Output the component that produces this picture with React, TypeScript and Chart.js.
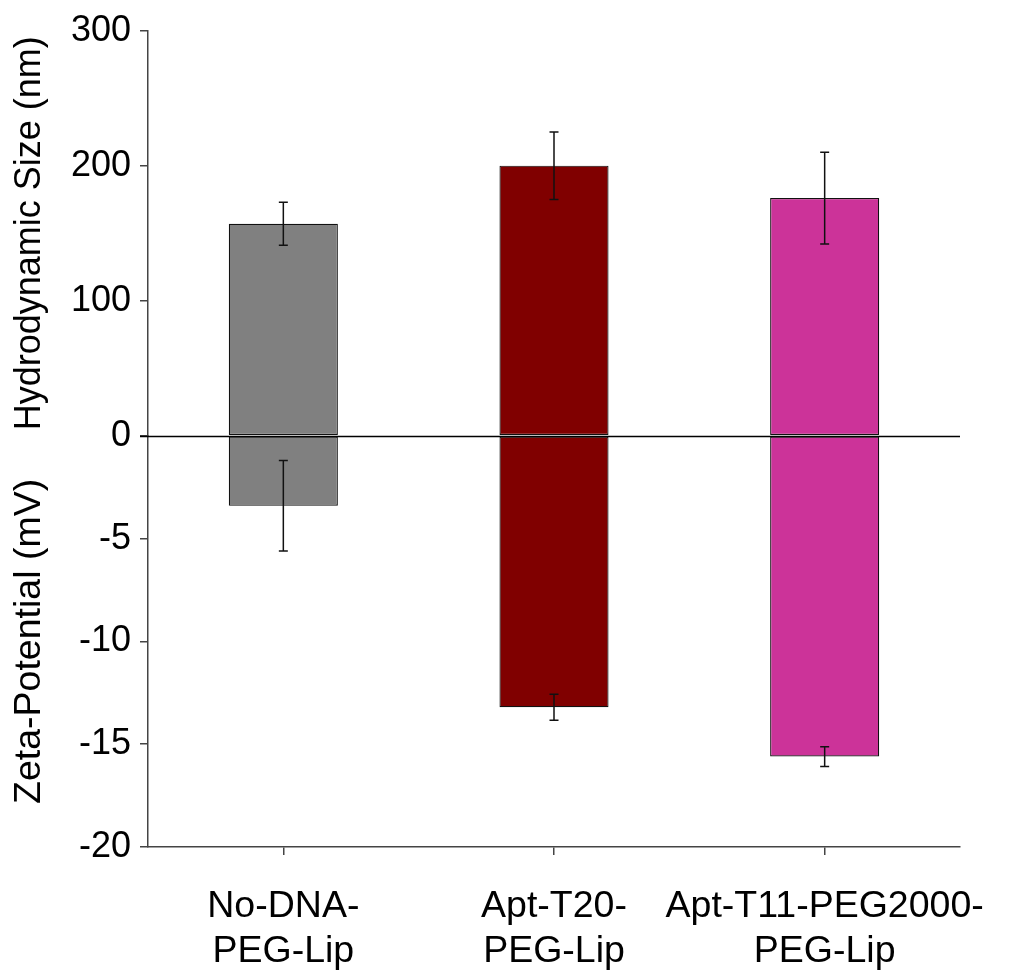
import React, { useEffect, useRef } from 'react';
import { Chart, registerables } from 'chart.js';

Chart.register(...registerables);

const categories = [['No-DNA-', 'PEG-Lip'], ['Apt-T20-', 'PEG-Lip'], ['Apt-T11-PEG2000-', 'PEG-Lip']];
const sizeMean = [157, 200, 176];
const sizeErr = [16, 25, 34];
const zetaMean = [-3.4, -13.2, -15.6];
const zetaErr = [2.2, 0.63, 0.48];
const barColors = ['#808080', '#800000', '#CC3399'];
const sizeRange = [0, 300, 100];
const zetaRange = [-20, 0, 5];

const FAMILY = '"Liberation Sans", Arial, sans-serif';
const FONT = { family: FAMILY, size: 36 };
const FONT_L = { family: FAMILY, size: 37.5 };

const overlayPlugin = {
  id: 'overlay',
  afterDatasetsDraw(chart: any) {
    const ctx = chart.ctx;
    const xs = chart.scales.x;
    const groups: [string, number[], number[]][] = [
      ['yTop', sizeMean, sizeErr],
      ['yBot', zetaMean, zetaErr],
    ];
    ctx.save();
    // zero line
    const y0 = Math.round(chart.scales.yTop.getPixelForValue(0)) + 0.5;
    ctx.strokeStyle = '#000';
    ctx.lineWidth = 1.3;
    ctx.beginPath();
    ctx.moveTo(chart.chartArea.left - 8, y0);
    ctx.lineTo(chart.chartArea.right, y0);
    ctx.stroke();
    // error bars
    ctx.strokeStyle = '#111';
    ctx.lineWidth = 1.5;
    for (const [id, m, e] of groups) {
      const ys = chart.scales[id];
      m.forEach((v, i) => {
        const cx = xs.getPixelForValue(i);
        const y1 = ys.getPixelForValue(v + e[i]);
        const y2 = ys.getPixelForValue(v - e[i]);
        ctx.beginPath();
        ctx.moveTo(cx, y1);
        ctx.lineTo(cx, y2);
        ctx.moveTo(cx - 4.5, y1);
        ctx.lineTo(cx + 4.5, y1);
        ctx.moveTo(cx - 4.5, y2);
        ctx.lineTo(cx + 4.5, y2);
        ctx.stroke();
      });
    }
    ctx.restore();
  },
};

export default function App() {
  const ref = useRef<HTMLCanvasElement>(null);
  useEffect(() => {
    document.body.style.margin = '0';
    const axisColor = '#444';
    const chart = new Chart(ref.current!, {
      type: 'bar',
      data: {
        labels: categories as any,
        datasets: [
          {
            data: sizeMean,
            yAxisID: 'yTop',
            backgroundColor: barColors,
            borderColor: '#111',
            borderWidth: 1.2,
            borderSkipped: false,
            grouped: false,
            barPercentage: 0.403,
            categoryPercentage: 1,
          } as any,
          {
            data: zetaMean,
            yAxisID: 'yBot',
            backgroundColor: barColors,
            borderColor: '#111',
            borderWidth: 1.2,
            borderSkipped: false,
            grouped: false,
            barPercentage: 0.403,
            categoryPercentage: 1,
          } as any,
        ],
      },
      options: {
        responsive: false,
        animation: false,
        layout: { padding: { top: 10, right: 55, bottom: 0, left: 0 } },
        plugins: { legend: { display: false }, tooltip: { enabled: false } },
        scales: {
          x: {
            type: 'category',
            offset: true,
            grid: { display: true, drawOnChartArea: false, drawTicks: true, tickLength: 8, offset: false, color: axisColor, lineWidth: 1.5 },
            border: { display: true, color: axisColor, width: 1.5 },
            ticks: { font: FONT_L, color: '#000', padding: 29, maxRotation: 0, autoSkip: false },
            afterFit: (s: any) => { s.height = 123; s.paddingLeft = 0; s.paddingRight = 0; },
          },
          yBot: {
            type: 'linear',
            position: 'left',
            stack: 'y',
            stackWeight: 411,
            min: zetaRange[0],
            max: zetaRange[1],
            grid: { drawOnChartArea: false, drawTicks: true, tickLength: 8, color: axisColor, lineWidth: 1.5 },
            border: { display: true, color: axisColor, width: 1.5 },
            ticks: { stepSize: zetaRange[2], font: FONT, color: '#000', padding: 9, callback: (v: any) => (v === 0 ? '' : String(v)) },
            title: { display: true, text: 'Zeta-Potential (mV)', font: FONT_L, color: '#000', padding: { top: 7, bottom: 0 } },
            afterFit: (s: any) => { s.width = 148; },
          },
          yTop: {
            type: 'linear',
            position: 'left',
            stack: 'y',
            stackWeight: 405,
            min: sizeRange[0],
            max: sizeRange[1],
            grid: { drawOnChartArea: false, drawTicks: true, tickLength: 8, color: axisColor, lineWidth: 1.5 },
            border: { display: true, color: axisColor, width: 1.5 },
            ticks: { stepSize: sizeRange[2], font: FONT, color: '#000', padding: 9, callback: (v: any) => String(v) },
            title: { display: true, text: 'Hydrodynamic Size (nm)', font: FONT, color: '#000', padding: { top: 8, bottom: 0 } },
            afterFit: (s: any) => { s.width = 148; },
          },
        } as any,
      },
      plugins: [overlayPlugin],
    });
    return () => chart.destroy();
  }, []);
  return (
    <div style={{ width: 1015, height: 970 }}>
      <canvas ref={ref} width={1015} height={970} style={{ width: 1015, height: 970, display: 'block' }} />
    </div>
  );
}
